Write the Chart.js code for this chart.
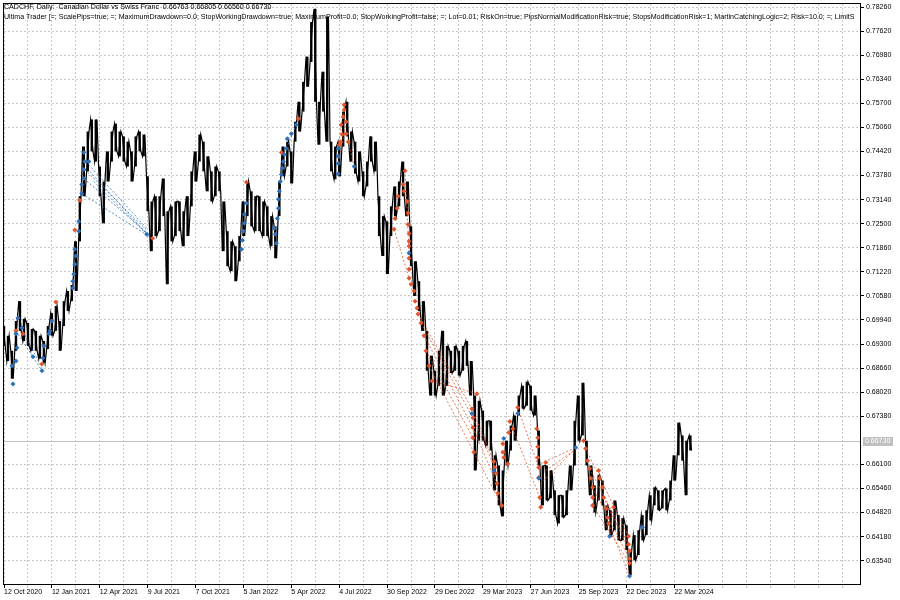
<!DOCTYPE html>
<html>
<head>
<meta charset="utf-8">
<script src="https://cdn.jsdelivr.net/npm/chart.js@4"></script>
<style>
  html, body { margin: 0; padding: 0; background: #fff; }
  #wrap { width: 900px; height: 600px; }
</style>
</head>
<body>
<div id="wrap"><canvas id="chart" width="900" height="600"></canvas></div>
<script>
const symbolTitle = 'CADCHF, Daily:  Canadian Dollar vs Swiss Franc  0.66763 0.66805 0.66560 0.66730';
const expertTitle = 'Ultima Trader [=; ScalePips=true; =; MaximumDrawdown=0.0; StopWorkingDrawdown=true; MaximumProfit=0.0; StopWorkingProfit=false; =; Lot=0.01; RiskOn=true; PipsNormalModificationRisk=true; StopsModificationRisk=1; MartinCatchingLogic=2; Risk=10.0; =; LimitS';
const lastPrice = 0.66730;

// one date label every 12 samples
const dateLabels = ['12 Oct 2020', '12 Jan 2021', '12 Apr 2021', '9 Jul 2021', '7 Oct 2021', '5 Jan 2022',
    '5 Apr 2022', '4 Jul 2022', '30 Sep 2022', '29 Dec 2022', '29 Mar 2023', '27 Jun 2023',
    '25 Sep 2023', '22 Dec 2023', '22 Mar 2024'];

const priceTicks = ['0.78260', '0.77620', '0.76980', '0.76340', '0.75700', '0.75060', '0.74420', '0.73780',
    '0.73140', '0.72500', '0.71860', '0.71220', '0.70580', '0.69940', '0.69300', '0.68660', '0.68020',
    '0.67380', '0.66100', '0.65460', '0.64820', '0.64180', '0.63540'];

// price range of each sample (a few days per sample)
const highs = [
    .6978, .6952, .6912, .6991, .7044, .6997, .6986, .6970, .6965, .6952,
    .6938, .6978, .7012, .7031, .6991, .7044, .7071, .7087, .7203, .7323,
    .7455, .7495, .7527, .7527, .7402, .7362, .7442, .7495, .7516, .7495,
    .7482, .7468, .7442, .7482, .7495, .7487, .7376, .7309, .7323, .7323,
    .7370, .7283, .7296, .7309, .7309, .7283, .7323, .7389, .7442, .7487,
    .7468, .7429, .7389, .7402, .7389, .7309, .7230, .7203, .7190, .7217,
    .7309, .7362, .7336, .7323, .7323, .7309, .7296, .7270, .7243, .7362,
    .7455, .7468, .7442, .7521, .7574, .7627, .7694, .7786, .7821, .7574,
    .7654, .7800, .7468, .7455, .7468, .7548, .7574, .7495, .7468, .7442,
    .7389, .7415, .7482, .7468, .7323, .7270, .7256, .7296, .7349, .7362,
    .7415, .7362, .7243, .7150, .7097, .7044, .6965, .6899, .6859, .6912,
    .6965, .6925, .6912, .6925, .6912, .6925, .6938, .6885, .6793, .6779,
    .6753, .6726, .6726, .6634, .6607, .6594, .6673, .6713, .6740, .6793,
    .6819, .6830, .6819, .6793, .6700, .6607, .6607, .6594, .6541, .6528,
    .6528, .6541, .6607, .6726, .6793, .6827, .6673, .6607, .6554, .6581,
    .6567, .6501, .6488, .6514, .6475, .6467, .6448, .6382, .6422, .6435,
    .6475, .6488, .6528, .6549, .6541, .6541, .6546, .6567, .6634, .6721,
    .6687, .6673, .6687
];
const lows = [
    .6925, .6885, .6838, .6912, .6965, .6938, .6925, .6912, .6912, .6891,
    .6880, .6917, .6952, .6965, .6912, .6978, .7018, .7044, .7071, .7203,
    .7323, .7389, .7442, .7415, .7323, .7251, .7362, .7415, .7442, .7429,
    .7415, .7402, .7362, .7402, .7442, .7429, .7283, .7177, .7217, .7230,
    .7270, .7089, .7203, .7217, .7230, .7190, .7217, .7296, .7362, .7415,
    .7389, .7336, .7309, .7323, .7336, .7177, .7137, .7124, .7097, .7150,
    .7217, .7270, .7243, .7230, .7230, .7217, .7217, .7190, .7158, .7270,
    .7376, .7402, .7357, .7468, .7495, .7548, .7614, .7680, .7574, .7460,
    .7548, .7468, .7389, .7368, .7376, .7455, .7482, .7415, .7383, .7362,
    .7323, .7349, .7415, .7389, .7217, .7164, .7116, .7217, .7270, .7296,
    .7323, .7270, .7137, .7058, .7018, .6965, .6859, .6793, .6793, .6819,
    .6793, .6819, .6853, .6859, .6846, .6859, .6872, .6793, .6594, .6673,
    .6673, .6660, .6647, .6541, .6501, .6472, .6607, .6647, .6673, .6740,
    .6758, .6766, .6753, .6740, .6607, .6501, .6514, .6520, .6475, .6453,
    .6469, .6475, .6541, .6607, .6673, .6687, .6607, .6528, .6482, .6514,
    .6501, .6435, .6422, .6435, .6408, .6408, .6382, .6316, .6355, .6369,
    .6408, .6422, .6461, .6501, .6488, .6493, .6488, .6514, .6567, .6634,
    .6620, .6528, .6647
];

// trade arrows [sample, price]
const buyMarks = [
    [2.0, .6872], [2.25, .6824], [3.0, .6957], [3.25, .6920], [3.0, .6885], [3.5, .6999], [4.5, .6973],
    [7.25, .6896], [9.5, .6859], [9.75, .6893], [10.0, .6925], [11.25, .6957], [11.5, .6965], [12.0, .6991],
    [17.25, .7079], [17.25, .7097], [17.5, .7116], [17.75, .7142], [18.0, .7164], [17.75, .7182],
    [18.75, .7230], [18.75, .7256], [19.5, .7330], [19.5, .7354], [20.0, .7370], [20.0, .7394],
    [20.25, .7415], [20.0, .7439], [21.25, .7415], [35.75, .7222],
    [60.75, .7304], [60.25, .7275], [60.25, .7251], [60.0, .7230], [59.75, .7206], [59.5, .7182],
    [67.75, .7238], [68.0, .7222], [68.25, .7198], [68.5, .7264], [68.75, .7291], [68.75, .7315],
    [69.0, .7336], [69.25, .7362], [69.5, .7381], [69.75, .7397], [70.0, .7415], [70.25, .7434],
    [70.75, .7450], [71.0, .7476], [72.0, .7489], [73.25, .7513],
    [83.75, .7450], [83.75, .7429], [83.75, .7410], [83.75, .7383], [87.75, .7402],
    [101.5, .7172], [117.25, .6745], [122.75, .6594], [125.25, .6679], [128.75, .6745], [134.0, .6573],
    [143.25, .6655], [151.75, .6419], [156.75, .6313], [160.0, .6443]
];
const sellMarks = [
    [3.0, .6965], [4.75, .6957], [9.5, .6877], [13.0, .7042], [17.75, .7233], [19.0, .7312], [37.25, .7211],
    [60.75, .7360], [69.5, .7439], [73.75, .7529],
    [85.25, .7566], [85.25, .7553], [85.0, .7534], [85.75, .7521], [84.5, .7513], [84.75, .7487],
    [85.75, .7489], [84.25, .7468], [84.0, .7460], [86.25, .7468],
    [100.5, .7391], [100.0, .7354], [100.25, .7336], [98.75, .7323], [98.5, .7291], [98.0, .7264],
    [97.75, .7235], [101.0, .7309], [101.25, .7278], [101.25, .7248], [101.5, .7224], [101.5, .7203],
    [101.5, .7190], [101.5, .7158], [101.5, .7129], [101.5, .7105], [102.0, .7089], [102.75, .7071],
    [103.0, .7044], [103.5, .7026], [103.75, .7010], [104.5, .6986], [105.25, .6952], [105.75, .6912],
    [106.5, .6872], [107.25, .6832],
    [118.5, .6798], [117.25, .6758], [117.5, .6734], [117.5, .6708], [117.5, .6681], [117.75, .6642],
    [122.75, .6618], [123.0, .6602], [123.25, .6586], [123.5, .6559], [123.75, .6533], [124.75, .6501],
    [125.0, .6665], [125.0, .6642], [125.25, .6628], [126.25, .6612], [126.5, .6695], [126.75, .6724],
    [127.5, .6705], [128.75, .6761],
    [133.5, .6705], [133.75, .6681], [133.75, .6657], [133.75, .6628], [134.0, .6602], [134.0, .6575],
    [134.25, .6522], [134.5, .6496], [135.75, .6615],
    [145.25, .6673], [145.75, .6652], [146.25, .6620], [146.75, .6599], [147.0, .6573], [147.5, .6549],
    [147.5, .6522], [147.5, .6501], [149.0, .6594], [149.25, .6573], [150.0, .6549], [150.25, .6522],
    [151.0, .6493], [151.25, .6469], [151.5, .6453], [152.75, .6496],
    [156.5, .6419], [156.5, .6398], [156.75, .6380], [156.75, .6359], [156.75, .6347]
];

// open -> close links [sample1, price1, sample2, price2]
const buyLinks = [
    [3.0, .6965, 7.25, .6896], [4.25, .6973, 9.5, .6867], [7.25, .6896, 9.5, .6859],
    [19.5, .7330, 36.25, .7217], [20.0, .7370, 36.25, .7222], [20.25, .7394, 36.0, .7230],
    [20.5, .7415, 35.75, .7238], [21.5, .7389, 36.5, .7214], [22.5, .7362, 37.0, .7209],
    [70.75, .7450, 73.75, .7527]
];
const sellLinks = [
    [85.25, .7566, 83.75, .7450], [85.75, .7521, 83.75, .7410], [86.25, .7468, 87.75, .7402],
    [100.5, .7391, 101.5, .7172], [97.75, .7235, 101.5, .7105],
    [103.75, .7010, 117.25, .6758], [104.5, .6986, 117.5, .6734], [105.25, .6952, 117.5, .6708],
    [105.75, .6912, 117.5, .6681], [106.5, .6872, 117.75, .6642], [107.25, .6832, 118.5, .6798],
    [117.25, .6758, 122.75, .6618], [117.5, .6734, 123.0, .6602], [117.5, .6708, 123.5, .6559],
    [117.75, .6642, 124.75, .6501],
    [128.75, .6761, 134.0, .6602], [127.5, .6705, 134.25, .6522],
    [134.5, .6612, 143.25, .6655], [135.75, .6594, 143.25, .6650], [134.5, .6559, 142.75, .6647],
    [145.75, .6652, 156.5, .6419], [146.75, .6599, 156.5, .6398], [147.5, .6549, 156.75, .6359],
    [147.5, .6501, 156.75, .6347], [150.25, .6522, 156.75, .6380], [151.5, .6453, 156.75, .6313]
];

const BLUE = '#2d6fb8';
const RED = '#e3542b';

const datasets = [];

// daily range blocks
datasets.push({
    type: 'bar',
    data: lows.map((lo, i) => ({ x: i, y: [lo, highs[i]] })),
    backgroundColor: '#000',
    borderWidth: 0,
    barPercentage: 0.6,
    categoryPercentage: 1,
    order: 6
});

// price path: each sample drawn as a high/low stroke, alternating direction
const pricePath = [];
lows.forEach((lo, i) => {
    const hi = highs[i];
    if (i % 2 === 0) {
        pricePath.push({ x: i - 0.3, y: hi }, { x: i + 0.3, y: lo });
    } else {
        pricePath.push({ x: i - 0.3, y: lo }, { x: i + 0.3, y: hi });
    }
});
datasets.push({
    type: 'line',
    data: pricePath,
    borderColor: '#000',
    borderWidth: 1.2,
    pointRadius: 0,
    tension: 0,
    order: 5
});

const addLinks = (links, color) => {
    links.forEach(l => {
        datasets.push({
            type: 'line',
            data: [{ x: l[0], y: l[1] }, { x: l[2], y: l[3] }],
            borderColor: color,
            borderWidth: 0.8,
            borderDash: [2, 2],
            pointRadius: 0,
            order: 3
        });
    });
};
addLinks(buyLinks, BLUE);
addLinks(sellLinks, RED);

datasets.push({
    type: 'scatter',
    data: buyMarks.map(m => ({ x: m[0], y: m[1] })),
    pointStyle: 'rectRot',
    pointRadius: 2.5,
    backgroundColor: BLUE,
    borderWidth: 0,
    order: 1
});
datasets.push({
    type: 'scatter',
    data: sellMarks.map(m => ({ x: m[0], y: m[1] })),
    pointStyle: 'rectRot',
    pointRadius: 2.5,
    backgroundColor: RED,
    borderWidth: 0,
    order: 1
});

const chartFrame = {
    id: 'chartFrame',
    beforeDatasetsDraw(chart) {
        const { ctx, chartArea: a, scales: { y } } = chart;
        const py = Math.round(y.getPixelForValue(lastPrice)) + 0.5;
        ctx.save();
        ctx.strokeStyle = '#c0c0c0';
        ctx.lineWidth = 1;
        ctx.beginPath();
        ctx.moveTo(a.left, py);
        ctx.lineTo(a.right, py);
        ctx.stroke();
        ctx.restore();
    },
    afterDraw(chart) {
        const { ctx, chartArea: a, scales: { y } } = chart;
        ctx.save();
        // frame
        ctx.strokeStyle = '#000';
        ctx.lineWidth = 1;
        ctx.strokeRect(a.left - 0.5, a.top - 0.5, a.right - a.left + 1, a.bottom - a.top + 1);

        // last price label
        const py = Math.round(y.getPixelForValue(lastPrice));
        ctx.fillStyle = '#c0c0c0';
        ctx.fillRect(a.right + 3, py - 4, 30, 9);
        ctx.fillStyle = '#fff';
        ctx.font = '7px "Liberation Sans", Arial, sans-serif';
        ctx.textBaseline = 'middle';
        ctx.fillText(lastPrice.toFixed(5), a.right + 5, py + 0.5);

        // header
        ctx.beginPath();
        ctx.rect(a.left, a.top, a.right - a.left, a.bottom - a.top);
        ctx.clip();
        ctx.fillStyle = '#000';
        ctx.font = '7.1px "Liberation Sans", Arial, sans-serif';
        ctx.fillText(symbolTitle, 4, 7);
        ctx.fillText(expertTitle, 4, 17);
        ctx.restore();
    }
};

Chart.defaults.font.family = '"Liberation Sans", Arial, sans-serif';
Chart.defaults.font.size = 7;
Chart.defaults.color = '#000';

new Chart(document.getElementById('chart'), {
    data: { datasets },
    options: {
        responsive: false,
        animation: false,
        devicePixelRatio: 1,
        layout: { padding: { left: 2, top: 2, right: 0, bottom: 0 } },
        plugins: { legend: { display: false }, tooltip: { enabled: false } },
        scales: {
            x: {
                type: 'linear',
                offset: false,
                min: 0,
                max: 214.5,
                afterBuildTicks: scale => {
                    const t = [];
                    for (let v = 0; v <= 210; v += 6) t.push({ value: v });
                    scale.ticks = t;
                },
                afterFit: scale => {
                    scale.height = 16;
                    scale.paddingLeft = 0;
                    scale.paddingRight = 0;
                },
                ticks: {
                    autoSkip: false,
                    maxRotation: 0,
                    align: 'start',
                    padding: 0,
                    callback: v => (v % 12 === 0 && dateLabels[v / 12]) ? dateLabels[v / 12] : ''
                },
                grid: {
                    offset: false,
                    color: '#c8c8c8',
                    lineWidth: 1,
                    tickLength: 4,
                    tickColor: c => (c.tick && c.tick.value % 12 === 0 && c.tick.value <= 168) ? '#000' : '#c8c8c8'
                },
                border: { display: false, dash: [2, 2] }
            },
            y: {
                type: 'linear',
                position: 'right',
                min: 0.6292,
                max: 0.7834,
                afterBuildTicks: scale => {
                    scale.ticks = priceTicks.map(v => ({ value: parseFloat(v) }));
                },
                afterFit: scale => {
                    scale.width = 40;
                    scale.paddingTop = 0;
                    scale.paddingBottom = 0;
                },
                ticks: {
                    autoSkip: false,
                    padding: 2,
                    callback: v => v.toFixed(5)
                },
                grid: {
                    color: '#c8c8c8',
                    lineWidth: 1,
                    tickLength: 4,
                    tickColor: '#000'
                },
                border: { display: false, dash: [2, 2] }
            }
        }
    },
    plugins: [chartFrame]
});
</script>
</body>
</html>
